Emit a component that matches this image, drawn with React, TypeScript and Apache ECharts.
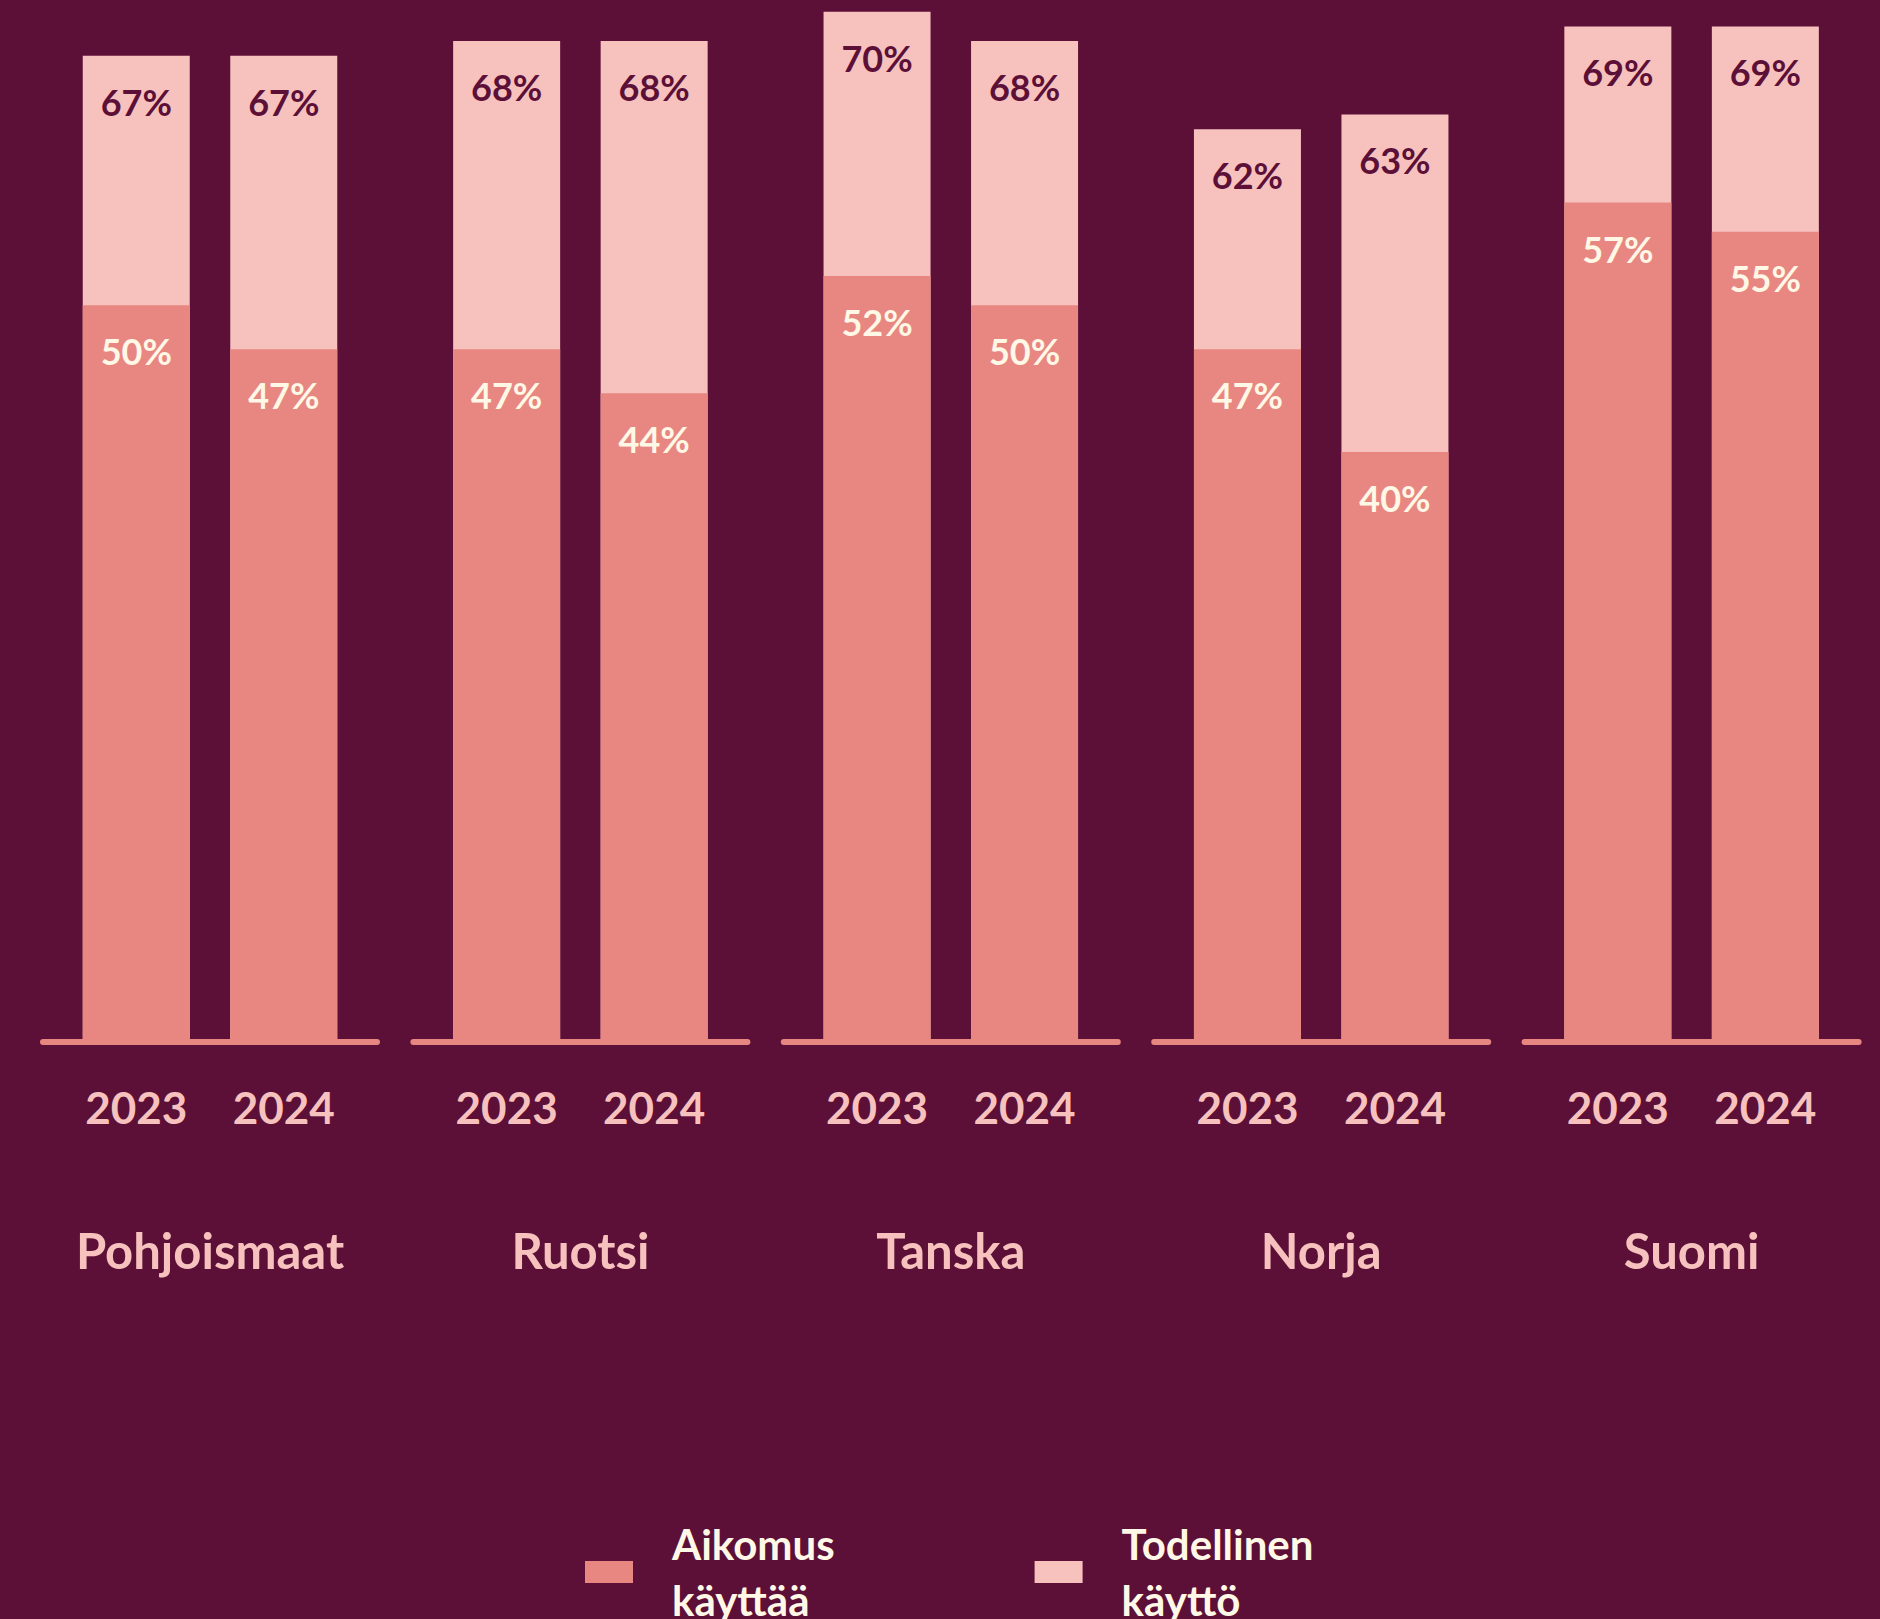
import React, { useEffect, useRef } from "react";
import * as echarts from "echarts";

const countries = ["Pohjoismaat", "Ruotsi", "Tanska", "Norja", "Suomi"];
const years = ["2023", "2024"];
const aikomus2023 = [50, 47, 52, 47, 57];
const aikomus2024 = [47, 44, 50, 40, 55];
const todellinen2023 = [67, 68, 70, 62, 69];
const todellinen2024 = [67, 68, 68, 63, 69];
const seriesNames = ["Aikomus käyttää", "Todellinen käyttö"];

const BG = "#5C1038";
const DARK = "#E88781";
const LIGHT = "#F7C2BE";
const CREAM = "#FFF8E6";
const FONT = "Lato, 'Noto Sans', sans-serif";

export default function App() {
  const ref = useRef<HTMLDivElement>(null);
  useEffect(() => {
    document.body.style.margin = "0";
    const chart = echarts.init(ref.current!, null, { renderer: "svg" });
    const groupStart = 210;
    const groupStep = 370.4;
    const grids: any[] = [];
    const xAxes: any[] = [];
    const yAxes: any[] = [];
    const series: any[] = [];
    countries.forEach((c, i) => {
      const cx = groupStart + groupStep * i;
      grids.push({ left: cx - 147.5, width: 295, top: 0, height: 1039 });
      xAxes.push({
        type: "category",
        gridIndex: i,
        data: years,
        axisLine: { show: false },
        axisTick: { show: false },
        axisLabel: {
          color: LIGHT,
          fontSize: 44,
          fontWeight: "bold",
          fontFamily: FONT,
          margin: 46,
        },
        name: c,
        nameLocation: "middle",
        nameGap: 186,
        nameTextStyle: {
          color: LIGHT,
          fontSize: 49,
          fontWeight: "bold",
          fontFamily: FONT,
        },
      });
      yAxes.push({ type: "value", gridIndex: i, min: 0, max: 70.8, show: false });
      series.push({
        type: "bar",
        name: seriesNames[1],
        xAxisIndex: i,
        yAxisIndex: i,
        data: [todellinen2023[i], todellinen2024[i]],
        barWidth: 107,
        barGap: "-100%",
        z: 2,
        itemStyle: { color: LIGHT },
        label: {
          show: true,
          position: "insideTop",
          distance: 28,
          formatter: "{c}%",
          color: BG,
          fontSize: 36,
          fontWeight: "bold",
          fontFamily: FONT,
        },
      });
      series.push({
        type: "bar",
        name: seriesNames[0],
        xAxisIndex: i,
        yAxisIndex: i,
        data: [aikomus2023[i], aikomus2024[i]],
        barWidth: 107,
        barGap: "-100%",
        z: 3,
        itemStyle: { color: DARK },
        label: {
          show: true,
          position: "insideTop",
          distance: 28,
          formatter: "{c}%",
          color: CREAM,
          fontSize: 36,
          fontWeight: "bold",
          fontFamily: FONT,
        },
      });
    });
    countries.forEach((c, i) => {
      const cx = groupStart + groupStep * i;
      const gi = countries.length + i;
      grids.push({ left: cx - 167, width: 334, top: 0, height: 1042 });
      xAxes.push({
        type: "value",
        gridIndex: gi,
        min: 0,
        max: 1,
        axisLine: { show: true, lineStyle: { color: DARK, width: 6 } },
        axisTick: { show: false },
        axisLabel: { show: false },
        splitLine: { show: false },
      });
      yAxes.push({ type: "value", gridIndex: gi, min: 0, max: 1, show: false });
    });

    chart.setOption({
      animation: false,
      backgroundColor: BG,
      grid: grids,
      xAxis: xAxes,
      yAxis: yAxes,
      series,
      legend: {
        data: seriesNames,
        left: 585,
        top: 1516,
        padding: 0,
        icon: "rect",
        itemWidth: 48,
        itemHeight: 22,
        itemGap: 200,
        formatter: (n: string) => n.replace(" ", "\n"),
        textStyle: {
          color: CREAM,
          fontSize: 42,
          lineHeight: 56,
          fontWeight: "bold",
          fontFamily: FONT,
          padding: [0, 0, 0, 34],
        },
      },
    });
    return () => chart.dispose();
  }, []);
  return <div ref={ref} style={{ width: 1880, height: 1619 }} />;
}
